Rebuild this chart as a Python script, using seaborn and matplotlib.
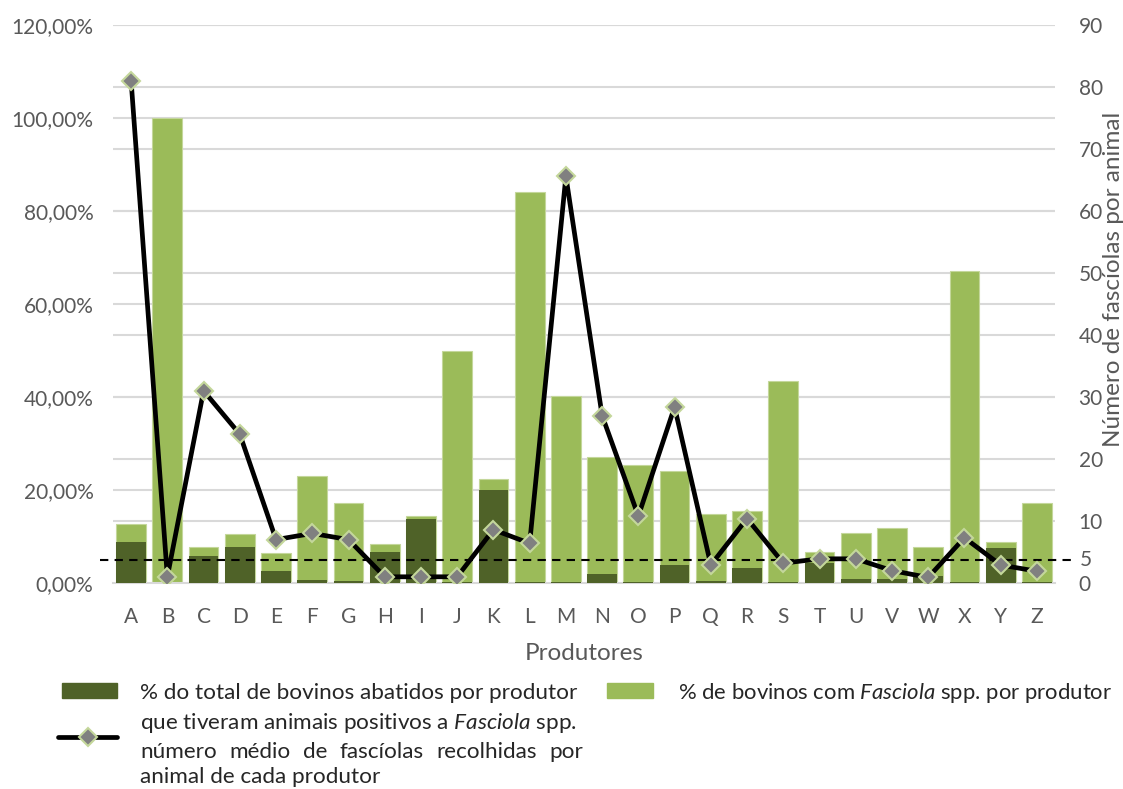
import numpy as np
import matplotlib
matplotlib.use("Agg")
import matplotlib.pyplot as plt
from matplotlib.patches import Rectangle
from matplotlib.lines import Line2D
import seaborn as sns

produtores = list("ABCDEFGHIJKLMNOPQRSTUVWXYZ")
pct_com_fasciola = [12.6, 100.0, 7.7, 10.5, 6.5, 23.0, 17.1, 8.3, 14.4, 50.0,
                    22.4, 84.0, 40.3, 27.0, 25.4, 24.1, 14.8, 15.5, 43.4, 6.7,
                    10.8, 11.8, 7.7, 67.2, 8.9, 17.1]
pct_abatidos = [8.8, 0.0, 5.8, 7.8, 2.6, 0.7, 0.4, 6.7, 13.8, 0.2,
                20.1, 0.3, 0.2, 1.9, 0.2, 3.9, 0.4, 3.2, 0.3, 4.4,
                0.8, 0.8, 1.5, 0.2, 7.6, 0.3]
media_fasciolas = [81, 1, 31, 24, 7, 8, 7, 1, 1, 1,
                   8.6, 6.4, 65.6, 27, 10.8, 28.4, 2.9, 10.4, 3.2, 3.9,
                   3.9, 2, 0.9, 7.3, 2.9, 1.9]
limiar = 5
left_ticks = [0, 20, 40, 60, 80, 100, 120]
right_ticks = [0, 10, 20, 30, 40, 50, 60, 70, 80, 90]

dark = "#4f6228"
light = "#9bbb59"
grey_txt = "#595959"
grid_c = "#d9d9d9"

sns.set_style("white")
plt.rcParams['font.family'] = ['Lato', 'DejaVu Sans']
plt.rcParams['mathtext.fontset'] = 'custom'
plt.rcParams['mathtext.rm'] = 'Lato'
plt.rcParams['mathtext.it'] = 'Lato:italic'

fig = plt.figure(figsize=(11.23, 7.89), dpi=100)
ax = fig.add_axes([113/1123, 1-583/789, (1055-113)/1123, (583-25)/789])

# gridlines for both axes (behind bars)
for v in left_ticks[1:]:
    ax.axhline(v, color=grid_c, lw=1.5, zorder=0)
for v in right_ticks[1:]:
    ax.axhline(v * 120 / 90, color=grid_c, lw=1.5, zorder=0)

sns.barplot(x=produtores, y=pct_com_fasciola, color=light, width=0.82,
            saturation=1, edgecolor="#c4d79b", linewidth=0.8, ax=ax, zorder=2)
sns.barplot(x=produtores, y=pct_abatidos, color=dark, width=0.82,
            saturation=1, linewidth=0, ax=ax, zorder=3)

ax.axhline(limiar, xmin=-0.014, xmax=1.02, color="black", lw=1.5,
           ls=(0, (4, 3)), clip_on=False, zorder=4)

ax.set_ylim(0, 120)
ax.set_xlim(-0.5, len(produtores) - 0.5)
ax.set_yticks(left_ticks)
ax.set_yticklabels([f"{v},00%" for v in left_ticks])
ax.tick_params(axis="y", length=0, pad=14, labelsize=15, labelcolor=grey_txt)
ax.tick_params(axis="x", length=0, pad=17, labelsize=15, labelcolor=grey_txt)
for s in ["top", "left", "right"]:
    ax.spines[s].set_visible(False)
ax.spines["bottom"].set_color(grid_c)
ax.spines["bottom"].set_linewidth(1.5)
ax.set_xlabel("Produtores", fontsize=17.5, color=grey_txt, labelpad=12)
ax.set_ylabel("")

ax2 = ax.twinx()
sns.lineplot(x=np.arange(len(produtores)), y=media_fasciolas, color="black",
             lw=3.4, marker="D", markersize=9, markerfacecolor="#808080",
             markeredgecolor="#c4d79b", markeredgewidth=1.5, ax=ax2, zorder=5)
ax2.set_ylim(0, 90)
ax2.set_yticks(right_ticks)
ax2.tick_params(axis="y", length=0, pad=17, labelsize=15, labelcolor=grey_txt)
for s in ["top", "left", "right", "bottom"]:
    ax2.spines[s].set_visible(False)
ax2.text(1.026, limiar / 120, "5", transform=ax.transAxes, fontsize=15,
         color=grey_txt, va="center", ha="left")

fig.text(1113/1123, 1-279/789, "Número de fascíolas por animal", rotation=90,
         fontsize=17.5, color=grey_txt, ha="center", va="center")

# legend
def fx(x):
    return x / 1123

def fy(y):
    return 1 - y / 789

fig.add_artist(Rectangle((fx(62), fy(698)), fx(117) - fx(62), fy(683) - fy(698),
                         color=dark, transform=fig.transFigure))
fig.add_artist(Rectangle((fx(607), fy(698)), fx(653) - fx(607), fy(683) - fy(698),
                         color=light, transform=fig.transFigure))
fig.add_artist(Line2D([fx(58), fx(117)], [fy(737), fy(737)], color="black", lw=3.4,
                      transform=fig.transFigure))
fig.add_artist(Line2D([fx(87.5)], [fy(737)], marker="D", markersize=9,
                      markerfacecolor="#808080", markeredgecolor="#c4d79b",
                      markeredgewidth=1.5, transform=fig.transFigure))

leg_fs = 16.2
fig.text(fx(140), fy(693), "% do total de bovinos abatidos por produtor",
         fontsize=leg_fs, ha="left", va="center")
fig.text(fx(140), fy(723), r"que tiveram animais positivos a $\it{Fasciola}$ spp.",
         fontsize=leg_fs, ha="left", va="center")
fig.text(fx(140), fy(777), "animal de cada produtor",
         fontsize=leg_fs, ha="left", va="center")
fig.text(fx(678), fy(693), r"% de bovinos com $\it{Fasciola}$ spp. por produtor",
         fontsize=15.9, ha="left", va="center")

# justified line
words = "número médio de fascíolas recolhidas por".split()
renderer = fig.canvas.get_renderer()
objs = [fig.text(0, fy(752), w, fontsize=leg_fs, ha="left", va="center") for w in words]
widths = [o.get_window_extent(renderer).width for o in objs]
x0, x1 = 140, 583
gap = (x1 - x0 - sum(widths)) / (len(words) - 1)
x = x0
for o, w in zip(objs, widths):
    o.set_x(fx(x))
    x += w + gap

fig.savefig("out.png", dpi=100)
